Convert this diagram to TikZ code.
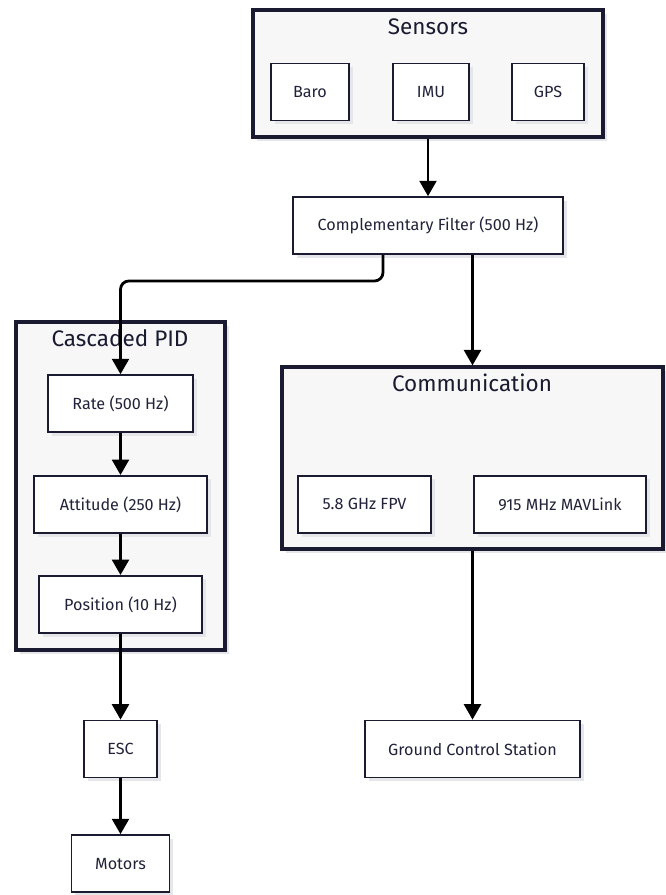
\documentclass[tikz,border=0pt]{standalone}
\usepackage{fontspec}
\setmainfont{Fira Sans}
\usetikzlibrary{arrows.meta,positioning,shadows}
\definecolor{fcInk}  {HTML}{1A1A30}
\definecolor{fcText} {HTML}{22223A}
\definecolor{fcPanel}{HTML}{F7F7F8}
\definecolor{fcShade}{HTML}{E4E6EA}

\begin{document}
\begin{tikzpicture}[font=\fontsize{11.5}{13.5}\selectfont,
      blk/.style={draw=fcInk,line width=1.1pt,fill=white,text=fcText,
                  minimum height=1.43cm,align=center,
                  drop shadow={shadow xshift=2.5pt,shadow yshift=-2.5pt,fill=fcShade,opacity=1}},
      grp/.style={draw=fcInk,line width=2.2pt,fill=fcPanel,
                  drop shadow={shadow xshift=2.5pt,shadow yshift=-2.5pt,fill=fcShade,opacity=1}},
      grptitle/.style={text=fcInk,font=\fontsize{16}{19}\selectfont},
      flow/.style={-{Triangle[length=11pt,width=12pt]},black,line width=2pt}]

    \useasboundingbox[fill=white] (0,0) rectangle (16.625,-22.375);

    % sensor group
    \node[grp,minimum width=8.75cm,minimum height=3.175cm] (sens) at (10.7,-1.8375) {};
    \node[grptitle] (senst) at (10.7,-0.675) {Sensors};
    \node[blk,minimum width=1.95cm] (baro) at (7.75,-2.3) {Baro};
    \node[blk,minimum width=1.9cm]  (imu)  at (10.775,-2.3) {IMU};
    \node[blk,minimum width=1.8cm]  (gps)  at (13.7,-2.3) {GPS};

    \node[blk,minimum width=6.75cm] (filt) at (10.7,-5.64) {Complementary Filter (500 Hz)};

    % control cascade
    \node[grp,minimum width=5.225cm,minimum height=8.2cm] (pid) at (3.0125,-12.15) {};
    \node[grptitle] (pidt) at (3.0,-8.45) {Cascaded PID};
    \node[blk,minimum width=3.625cm] (rate) at (3.0125,-10.09) {Rate (500 Hz)};
    \node[blk,minimum width=4.325cm] (att)  at (3.0125,-12.61) {Attitude (250 Hz)};
    \node[blk,minimum width=4.075cm] (pos)  at (3.0125,-15.11) {Position (10 Hz)};
    \node[blk,minimum width=1.825cm] (esc)  at (3.0125,-18.725) {ESC};
    \node[blk,minimum width=2.45cm]  (mot)  at (3.0125,-21.59) {Motors};

    % radio links
    \node[grp,minimum width=9.525cm,minimum height=4.55cm] (comm) at (11.8125,-11.45) {};
    \node[grptitle] (commt) at (11.8,-9.575) {Communication};
    \node[blk,minimum width=3.325cm] (fpv) at (9.1125,-12.61) {5.8 GHz FPV};
    \node[blk,minimum width=4.3cm]   (mav) at (14.0,-12.61) {915 MHz MAVLink};
    \node[blk,minimum width=5.375cm] (gcs) at (11.8125,-18.725) {Ground Control Station};

    \draw[flow] (sens.south -| filt.north) -- (filt.north);
    \draw[flow,rounded corners=6pt] ([xshift=-1.125cm]filt.south) -- ++(0,-0.65) -| (rate.north);
    \draw[flow] (filt.south -| comm.north) -- (comm.north);
    \foreach \a/\b in {rate/att,att/pos,pos/esc,esc/mot}
      \draw[flow] (\a) -- (\b);
    \draw[flow] (comm.south) -- (gcs.north);
  \end{tikzpicture}
\end{document}
